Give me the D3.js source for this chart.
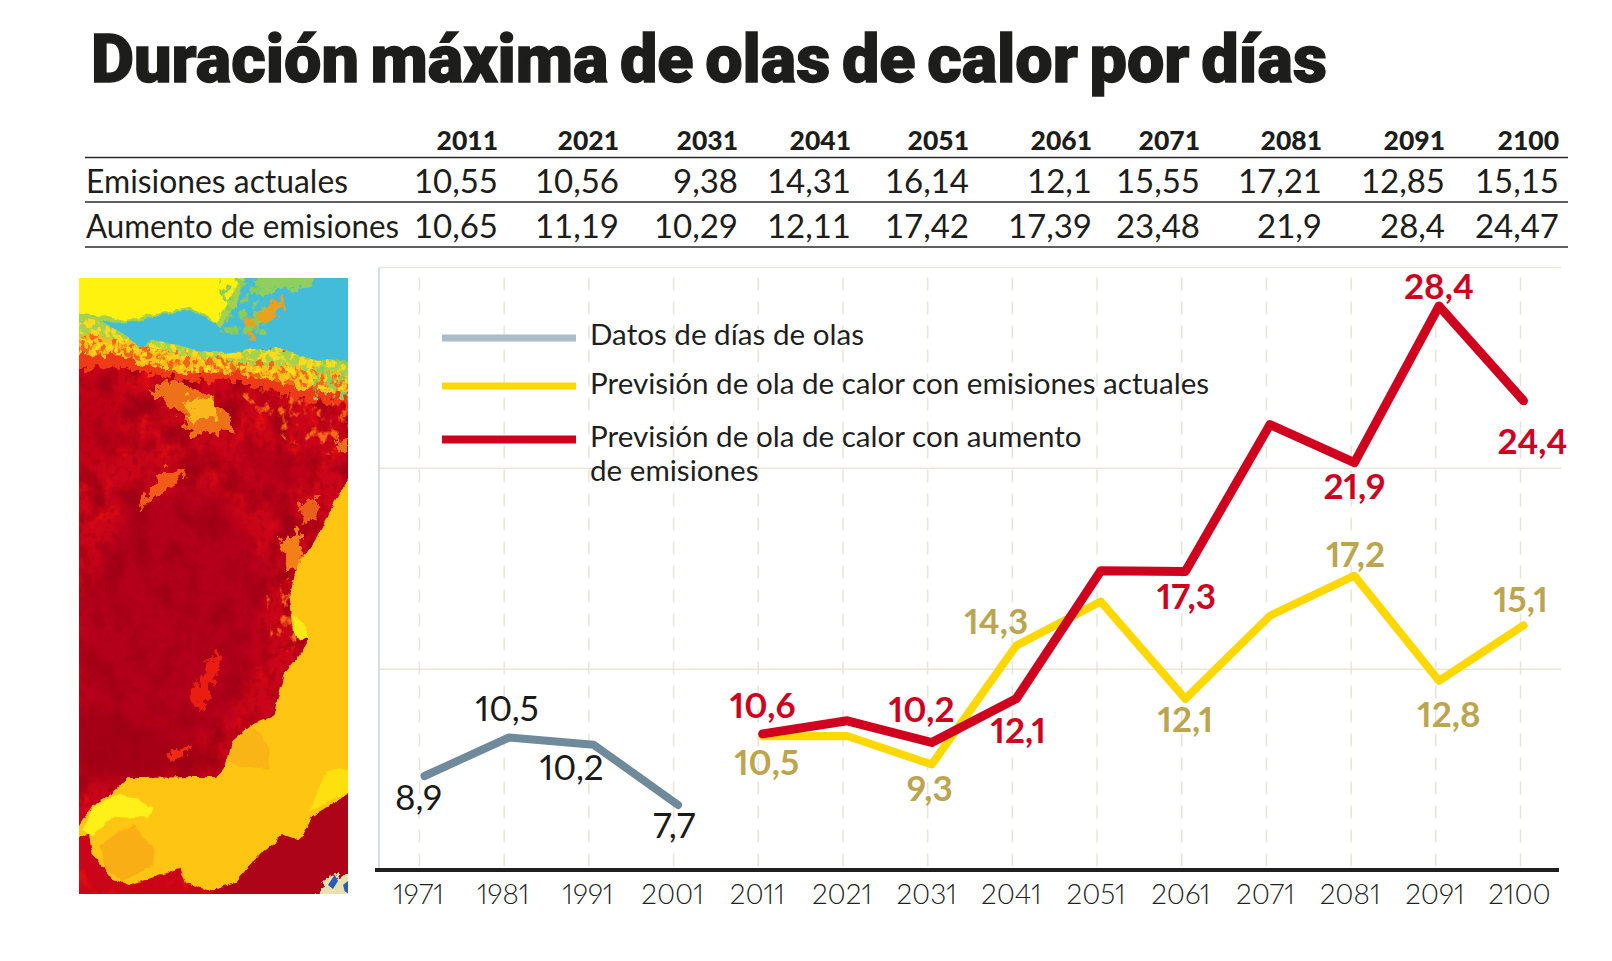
<!DOCTYPE html>
<html><head><meta charset="utf-8">
<script src="https://cdnjs.cloudflare.com/ajax/libs/d3/7.8.5/d3.min.js"></script>
<style>html,body{margin:0;padding:0;background:#fff;overflow:hidden}svg{display:block}text{font-family:Lato,sans-serif}</style>
</head><body><svg id="c" width="1612" height="961"></svg>
<script>
const title = "Duración máxima de olas de calor por días";
const years = ["1971","1981","1991","2001","2011","2021","2031","2041","2051","2061","2071","2081","2091","2100"];
const tableYears = ["2011","2021","2031","2041","2051","2061","2071","2081","2091","2100"];
const rowActuales = [10.55,10.56,9.38,14.31,16.14,12.1,15.55,17.21,12.85,15.15];
const rowAumento = [10.65,11.19,10.29,12.11,17.42,17.39,23.48,21.9,28.4,24.47];
const rowLabels = ["Emisiones actuales","Aumento de emisiones"];
const historic = [8.9,10.5,10.2,7.7];
const historicYears = ["1971","1981","1991","2001"];
const historicLabels = ["8,9","10,5","10,2","7,7"];
const actualLabels = {"2011":"10,5","2031":"9,3","2041":"14,3","2061":"12,1","2081":"17,2","2091":"12,8","2100":"15,1"};
const aumentoLabels = {"2011":"10,6","2031":"10,2","2041":"12,1","2061":"17,3","2081":"21,9","2091":"28,4","2100":"24,4"};
const legendItems = [["Datos de días de olas"],["Previsión de ola de calor con emisiones actuales"],["Previsión de ola de calor con aumento","de emisiones"]];

const GRAY="#6f8a9a",GRAYL="#a9bcc8",YEL="#ffd800",RED="#d0011f",GOLD="#bca54f",INK="#1d1d1b";
const svg=d3.select("#c");

// ---- title
svg.append("text").attr("x",91).attr("y",82).attr("font-size",67).attr("fill",INK)
  .attr("stroke",INK).attr("stroke-width",1.3)
  .style("font-family","Roboto").style("word-spacing","-5px").attr("font-weight",900)
  .attr("textLength",1236).attr("lengthAdjust","spacingAndGlyphs").text(title);

// ---- table
const colX=d3.scaleOrdinal(tableYears,[498,619,738,851,969,1092,1200,1322,1445,1559]);
const T=svg.append("g");
[157.5,202,247].forEach(y=>T.append("line").attr("x1",85).attr("x2",1568).attr("y1",y).attr("y2",y).attr("stroke","#2a2a2a").attr("stroke-width",1.5));
T.selectAll(".h").data(tableYears).join("text").attr("x",d=>colX(d)).attr("y",150).attr("text-anchor","end")
  .attr("font-size",26.5).attr("font-weight",900).attr("fill",INK).text(d=>d);
[rowActuales,rowAumento].forEach((row,r)=>{
  const y=193+r*44.5;
  T.append("text").attr("x",86).attr("y",y).attr("font-size",33).attr("fill",INK).attr("textLength",r?313:262).attr("lengthAdjust","spacingAndGlyphs").text(rowLabels[r]);
  T.selectAll(".v"+r).data(row).join("text").attr("x",(d,i)=>colX(tableYears[i])).attr("y",y).attr("text-anchor","end")
   .attr("font-size",33).attr("fill",INK).text(d=>String(d).replace(".",","));
});

// ---- chart scales
const xLine=d3.scalePoint(years,[424.5,1523.5]);
const xTick=d3.scalePoint(years,[419.5,1520.5]);
const y=d3.scaleLinear([5,30],[870,267.5]);
const gridVals=[5+25/3,5+50/3,30];
const C=svg.append("g");
C.selectAll(".g").data(gridVals).join("line").attr("x1",379).attr("x2",1561).attr("y1",d=>y(d)).attr("y2",d=>y(d)).attr("stroke","#e9e6da").attr("stroke-width",1.5);
C.selectAll(".d").data(years).join("line").attr("x1",d=>xTick(d)).attr("x2",d=>xTick(d)).attr("y1",y(30)+10).attr("y2",y(5))
  .attr("stroke","#e8e4d6").attr("stroke-width",1.5).attr("stroke-dasharray","13 11");
C.append("line").attr("x1",379).attr("x2",379).attr("y1",y(30)).attr("y2",y(5)).attr("stroke","#d3dee6").attr("stroke-width",2);
C.append("line").attr("x1",375).attr("x2",1559).attr("y1",y(5)).attr("y2",y(5)).attr("stroke","#1f1f1f").attr("stroke-width",4);
C.selectAll(".t").data(years).join("text").attr("x",d=>xTick(d)-1).attr("y",904).attr("text-anchor","middle")
  .attr("font-size",28).attr("font-weight",300).attr("fill","#222").style("font-variant-numeric","proportional-nums").text(d=>d);

// ---- lines
const line=d3.line().x(d=>xLine(d[0])).y(d=>y(d[1])).curve(d3.curveLinear);
const draw=(yrs,vals,col,w)=>C.append("path").attr("d",line(yrs.map((k,i)=>[k,vals[i]]))).attr("fill","none").attr("stroke",col).attr("stroke-width",w).attr("stroke-linejoin","round").attr("stroke-linecap","round");
draw(historicYears,historic,GRAY,8);
draw(tableYears,rowActuales,YEL,8);
draw(tableYears,rowAumento,RED,9);

// ---- data labels
const lab=(yr,v,txt,dx,dy,col,w)=>C.append("text").attr("x",xLine(yr)+dx).attr("y",y(v)+dy).attr("text-anchor","middle")
  .attr("font-size",35).attr("font-weight",w).attr("fill",col).style("font-variant-numeric","proportional-nums").text(txt);
const hOff=[[-6,34],[-2,-16],[-22,35],[-4,33]];
historicYears.forEach((k,i)=>lab(k,historic[i],historicLabels[i],hOff[i][0],hOff[i][1],"#1a1a1a",400));
const aOff={"2011":[4,39],"2031":[-2,37],"2041":[-20,-12],"2061":[0,33],"2081":[1,-9],"2091":[10,46],"2100":[-3,-13]};
const rOff={"2011":[0,-16],"2031":[-10,-21],"2041":[2,44],"2061":[1,38],"2081":[0,36],"2091":[0,-7],"2100":[9,53]};
tableYears.forEach((k,i)=>{
  if(actualLabels[k])lab(k,rowActuales[i],actualLabels[k],aOff[k][0],aOff[k][1],GOLD,700);
  if(aumentoLabels[k])lab(k,rowAumento[i],aumentoLabels[k],rOff[k][0],rOff[k][1],RED,700);
});

// ---- legend
const L=svg.append("g");
[[338,GRAYL,7],[386,YEL,7],[439.5,RED,8]].forEach(([ly,col,w])=>L.append("line").attr("x1",442).attr("x2",576).attr("y1",ly).attr("y2",ly).attr("stroke",col).attr("stroke-width",w));
[[345,legendItems[0][0]],[394,legendItems[1][0]],[447,legendItems[2][0]],[481,legendItems[2][1]]].forEach(([ly,t])=>
  L.append("text").attr("x",590).attr("y",ly).attr("font-size",29.6).attr("fill","#1f1f1f").text(t));

// ---- heat map picture (decorative), coordinates in its own 805x1512 space
const defs=svg.append("defs");
defs.append("clipPath").attr("id","mc").append("rect").attr("width",805).attr("height",1512);
const newF=id=>defs.append("filter").attr("id",id).attr("x","-15%").attr("y","-15%").attr("width","130%").attr("height","130%").attr("color-interpolation-filters","sRGB");
const mk=(id,freq,scale,seed)=>{const f=newF(id);
 f.append("feTurbulence").attr("type","fractalNoise").attr("baseFrequency",freq).attr("numOctaves",4).attr("seed",seed).attr("result","n");
 f.append("feDisplacementMap").attr("in","SourceGraphic").attr("in2","n").attr("scale",scale).attr("xChannelSelector","R").attr("yChannelSelector","G");};
mk("rough",0.045,46,3);mk("rough2",0.025,80,8);mk("fine",0.03,16,5);mk("coast",0.05,14,11);
const nf=(id,freq,seed,r,g,b,k,o,ch=0)=>{const f=newF(id);
 f.append("feTurbulence").attr("type","fractalNoise").attr("baseFrequency",freq).attr("numOctaves",5).attr("seed",seed).attr("result","n");
 const row=[0,0,0,0,o];row[ch]=k;
 f.append("feColorMatrix").attr("in","n").attr("type","matrix").attr("values",`0 0 0 0 ${r} 0 0 0 0 ${g} 0 0 0 0 ${b} ${row.join(" ")}`).attr("result","c");
 f.append("feComposite").attr("in","c").attr("in2","SourceAlpha").attr("operator","in");};
nf("nDark",0.014,4,.62,0,.08,3,-1.3);
nf("nDark2",0.05,9,.66,0,.08,3,-1.6,1);
nf("nBright",0.018,7,.9,.06,.06,3,-1.65,1);
nf("nOrange",0.035,12,.97,.42,.1,5,-2.75);
nf("bYellow",0.05,2,1,.86,.1,8,-3.8);
nf("bOrange",0.06,6,.95,.4,.1,8,-3.9,1);
nf("bGreen",0.05,21,.55,.8,.35,8,-4.1);
const bl=defs.append("filter").attr("id","blur");bl.append("feGaussianBlur").attr("stdDeviation",22);
const M=svg.append("g").attr("transform","translate(79,278) scale(0.3342,0.4074)").append("g").attr("clip-path","url(#mc)");
const poly=(pts,fill,flt,op)=>{const p=M.append("path").attr("d","M"+pts.join("L")+"Z").attr("fill",fill);if(flt)p.attr("filter","url(#"+flt+")");if(op)p.attr("opacity",op);return p;};
const box=(a,b,c,d)=>[[a,b],[c,b],[c,d],[a,d]];
poly(box(0,0,805,1512),"#cb0519");
poly(box(0,200,805,1512),"#000","nBright");
poly([[170,520],[420,520],[560,700],[540,900],[440,1100],[200,1180],[0,1150],[0,800]],"#b5031a","blur");
poly([[0,230],[120,240],[130,420],[0,480]],"#bd0519","blur",.8);
poly([[0,1050],[300,1130],[420,1200],[150,1240],[0,1230]],"#a50318","blur");
poly([[430,400],[700,460],[640,560],[480,520]],"#bc041a","blur",.7);
poly(box(0,200,805,1300),"#000","nDark");
poly(box(0,200,805,1300),"#000","nDark2");
poly([[330,1030],[410,910],[430,930],[370,1060]],"#ea1d12","rough");
poly([[260,1165],[330,1150],[340,1170],[270,1185]],"#ee2a12","rough");
poly([[560,780],[650,720],[650,910],[580,930]],"#000","nOrange");
poly([[430,240],[805,300],[805,450],[620,400]],"#000","nOrange");
poly([[220,270],[340,260],[440,330],[460,380],[330,370],[280,320]],"#ee7018","rough2");
poly([[310,300],[400,290],[420,340],[340,350]],"#f9b81c","rough");
poly([[170,570],[250,470],[320,480],[250,530]],"#f25c17","rough");
poly([[600,640],[660,620],[670,710],[620,720]],"#f37f18","rough");
poly([[660,560],[720,530],[710,590],[670,600]],"#e9601a","rough");
poly([[770,400],[805,390],[805,430],[775,430]],"#e9701e","rough");
// north band and sky
poly([[-60,120],[250,150],[500,180],[860,200],[860,320],[680,300],[450,250],[300,250],[130,220],[-60,225]],"#ee3a16","rough");
poly([[-60,100],[230,150],[450,180],[860,190],[860,285],[650,265],[460,230],[300,235],[130,190],[-60,185]],"#fbbf1c","rough");
poly([[-60,100],[230,150],[450,180],[860,190],[860,285],[650,265],[460,230],[300,235],[130,190],[-60,185]],"#000","bYellow");
poly([[-60,100],[230,150],[450,180],[860,190],[860,285],[650,265],[460,230],[300,235],[130,190],[-60,185]],"#000","bOrange");
poly(box(-60,-60,860,130),"#a5d24e");
poly([[-60,85],[220,130],[440,170],[860,170],[860,245],[640,215],[440,195],[260,180],[120,150],[-60,130]],"#a5d24e","rough");
poly([[-60,85],[220,130],[440,170],[860,170],[860,245],[640,215],[440,195],[260,180],[120,150],[-60,130]],"#000","bYellow");
poly([[520,-60],[860,-60],[860,205],[700,200],[590,172],[450,182],[380,185],[300,165],[220,155],[190,170],[120,130],[60,108],[130,110],[230,95],[330,75],[420,120],[470,70]],"#43bcd9","fine");
poly([[-60,-60],[520,-60],[440,70],[410,110],[330,70],[220,90],[130,105],[60,90],[-60,80]],"#fff20e","fine");
poly([[500,100],[600,50],[610,75],[520,130],[530,155],[505,150]],"#e9a11f","rough");
poly([[530,-40],[700,-40],[690,25],[600,25],[540,50]],"#8fcf60","rough");
poly(box(420,-20,560,140),"#000","bGreen");
poly(box(700,200,860,300),"#000","bGreen");
// sea
poly([[860,440],[805,495],[765,550],[710,640],[650,710],[628,790],[640,865],[690,885],[665,920],[612,975],[582,1075],[522,1095],[460,1135],[432,1205],[410,1225],[350,1225],[145,1228],[100,1265],[40,1295],[0,1345],[-40,1372],[30,1368],[40,1415],[100,1475],[150,1490],[225,1470],[305,1450],[320,1485],[395,1505],[470,1485],[540,1415],[610,1368],[660,1378],[700,1320],[860,1240]],"#ffc512","coast");
// sea tones
poly([[40,1300],[120,1265],[220,1300],[210,1325],[100,1320],[40,1370],[10,1350]],"#fff01a","fine");
poly([[60,1395],[160,1340],[220,1400],[220,1440],[130,1480],[80,1450]],"#f9ae16","fine");
poly([[460,1140],[520,1100],[570,1150],[570,1205],[500,1200],[450,1190]],"#f9b516","fine");
poly([[690,1310],[740,1210],[860,1200],[860,1240]],"#ffe00f","fine");
poly([[640,830],[665,840],[690,880],[665,890],[640,865]],"#f5ea16","fine");
// bottom corner
poly([[860,1240],[860,1560],[400,1560],[395,1505],[470,1485],[540,1415],[610,1368],[660,1378],[700,1320]],"#ae0419","coast");
poly([[690,1540],[745,1470],[860,1445],[860,1540]],"#e8e1b0","rough");
poly([[745,1490],[765,1465],[775,1480],[760,1500]],"#2a5cb8");
poly([[790,1490],[805,1480],[805,1510],[795,1505]],"#2a5cb8");
</script></body></html>
